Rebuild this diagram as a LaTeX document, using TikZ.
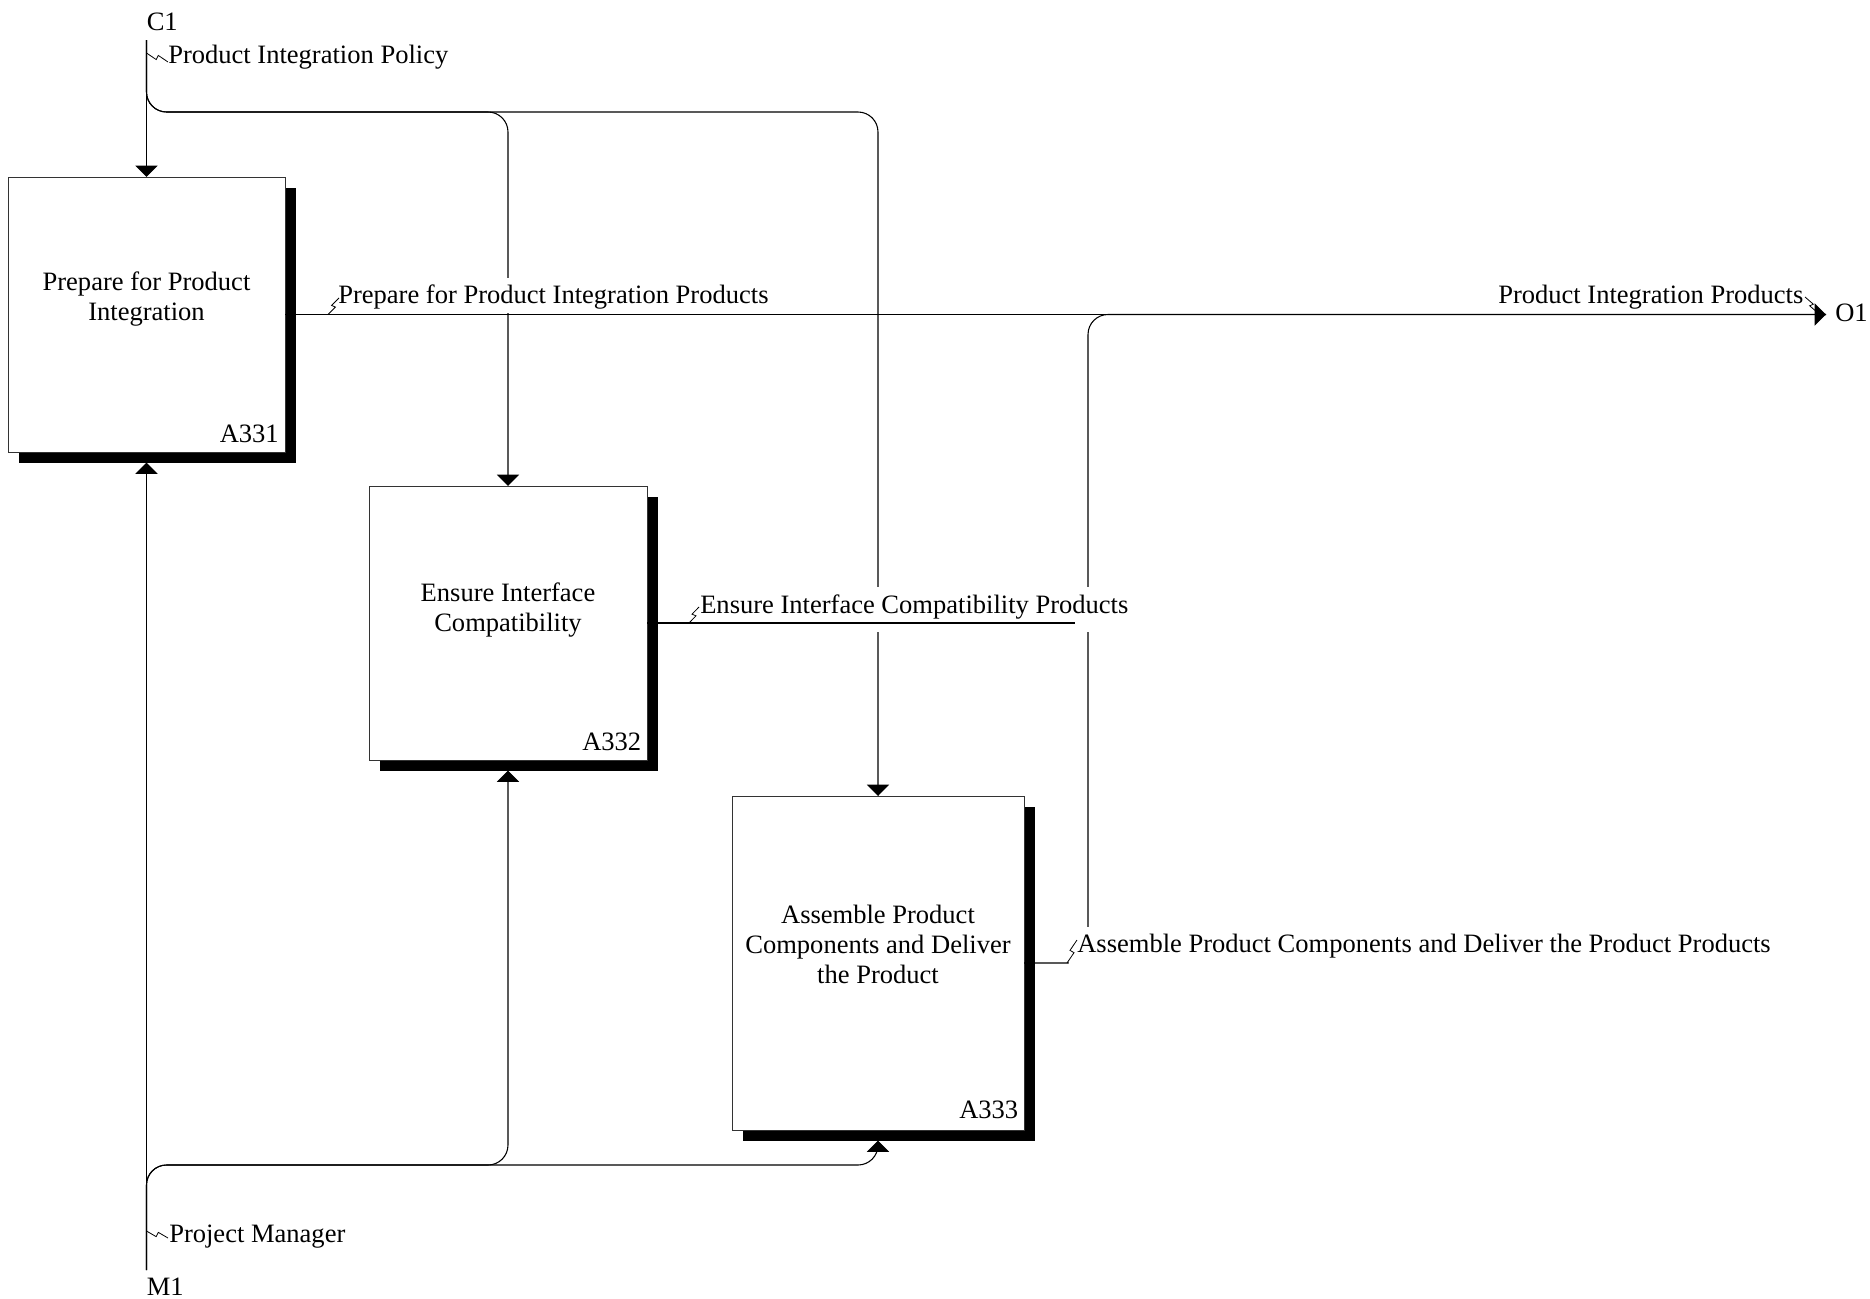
\documentclass[tikz,border=0pt]{standalone}
\usepackage{fontspec}
\setmainfont{Liberation Serif}
\usetikzlibrary{arrows.meta,calc,shadows}
\newcommand\zzv[2]{\draw[squig] (#1) -- ($(#1)!0.45!(#2)+(2.5,0)$) -- ($(#1)!0.55!(#2)+(-2.5,0)$) -- (#2);}
\newcommand\zzh[2]{\draw[squig] (#1) -- ($(#1)!0.45!(#2)+(0,2.5)$) -- ($(#1)!0.55!(#2)+(0,-2.5)$) -- (#2);}
\begin{document}
\begin{tikzpicture}[x=0.75pt,y=-0.75pt,
  font=\fontsize{19.9pt}{22.5pt}\selectfont,
  act/.style={draw=black!80,line width=0.75pt,fill=white,inner sep=0pt,outer sep=0pt,
     general shadow={fill=black,shadow xshift=7.9pt,shadow yshift=-7.9pt}},
  acttext/.style={align=center,inner sep=0pt},
  actnum/.style={anchor=base east,inner sep=0pt},
  conn/.style={line width=0.8pt},
  arr/.style={-{Triangle[length=8.5pt,width=16.5pt]}},
  lbl/.style={fill=white,inner sep=0pt,anchor=base west},
  squig/.style={line width=0.6pt}]
\useasboundingbox (0,0) rectangle (1870,1299);

% activity boxes
\node[act,minimum width=207.75pt,minimum height=206.25pt] (b1) at (146.5,314.5) {};
\node[act,minimum width=208.5pt,minimum height=205.5pt] (b2) at (508,623) {};
\node[act,minimum width=219pt,minimum height=250.5pt] (b3) at (878,963) {};
\node[acttext] (t1) at (146.5,298.8) {Prepare for Product\\Integration};
\node[acttext] (t2) at (508,609.8) {Ensure Interface\\Compatibility};
\node[acttext] (t3) at (878,944.9) {Assemble Product\\Components and Deliver\\the Product};
\node[actnum] (n1) at ($(b1.south east)+(-6,-10)$) {A331};
\node[actnum] (n2) at ($(b2.south east)+(-5.5,-10)$) {A332};
\node[actnum] (n3) at ($(b3.south east)+(-5.5,-12)$) {A333};

% boundary points and junctions
\coordinate (c1) at (146.5,40);
\coordinate (cbus) at (146.5,112);
\coordinate (m1) at (146.5,1270);
\coordinate (mbus) at (146.5,1165);
\coordinate (o1) at (1826,314.5);
\coordinate (jt) at (1088,314.5);
\coordinate (jb) at (1088,963);
\coordinate (e2) at (1075,623);
\coordinate (b1m) at ($(b1.south)+(0,10.5)$);
\coordinate (b2m) at ($(b2.south)+(0,10.5)$);
\coordinate (b3m) at ($(b3.south)+(0,10.5)$);

% controls
\draw[conn,arr] (c1) -- (b1.north);
\draw[conn,arr,rounded corners=15pt] (c1) -- (cbus) -- (b2.north |- cbus) -- (b2.north);
\draw[conn,arr,rounded corners=15pt] (c1) -- (cbus) -- (b3.north |- cbus) -- (b3.north);

% mechanisms
\draw[conn,arr] (m1) -- (b1m);
\draw[conn,arr,rounded corners=15pt] (m1) -- (mbus) -- (b2m |- mbus) -- (b2m);
\draw[conn,arr,rounded corners=15pt] (m1) -- (mbus) -- (b3m |- mbus) -- (b3m);

% output of A333 joining O1
\draw[conn,rounded corners=15pt] (b3.east) -- (jb) -- (jt) -- (o1);

% labels
\node[lbl,text height=18.75pt,text depth=7.5pt] (l1) at (338,303) {Prepare for Product Integration Products};
\node[lbl,text height=19.5pt,text depth=14.25pt] (l2) at (700,613) {Ensure Interface Compatibility Products};
\node[lbl,text height=18.75pt,text depth=9.75pt,inner xsep=6pt] (l3) at (1069,952) {Assemble Product Components and Deliver the Product Products};
\node[lbl] (lo) at (1498,303) {Product Integration Products};
\node[lbl] (lc) at (168,63) {Product Integration Policy};
\node[lbl] (lm) at (169,1242) {Project Manager};
\node[lbl] (c1t) at (146.5,30) {C1};
\node[lbl] (m1t) at (146.5,1295) {M1};
\node[lbl] (o1t) at (1835,321) {O1};

% outputs drawn over labels
\draw[conn,arr] (b1.east) -- (o1);
\draw[conn] (b2.east) -- (e2);

% squiggles
\coordinate (s1a) at (328,314.5); \coordinate (s1b) at (339,298);
\coordinate (s2a) at (689,623);   \coordinate (s2b) at (699,607);
\coordinate (s3a) at (1067,963);  \coordinate (s3b) at (1077,940);
\coordinate (soa) at (1805,297);  \coordinate (sob) at (1818,313);
\coordinate (sca) at (146.5,53);  \coordinate (scb) at (168,62);
\coordinate (sma) at (146.5,1231);\coordinate (smb) at (168,1238);
\zzv{s1a}{s1b}
\zzv{s2a}{s2b}
\zzv{s3a}{s3b}
\zzv{soa}{sob}
\zzh{sca}{scb}
\zzh{sma}{smb}
\end{tikzpicture}
\end{document}
